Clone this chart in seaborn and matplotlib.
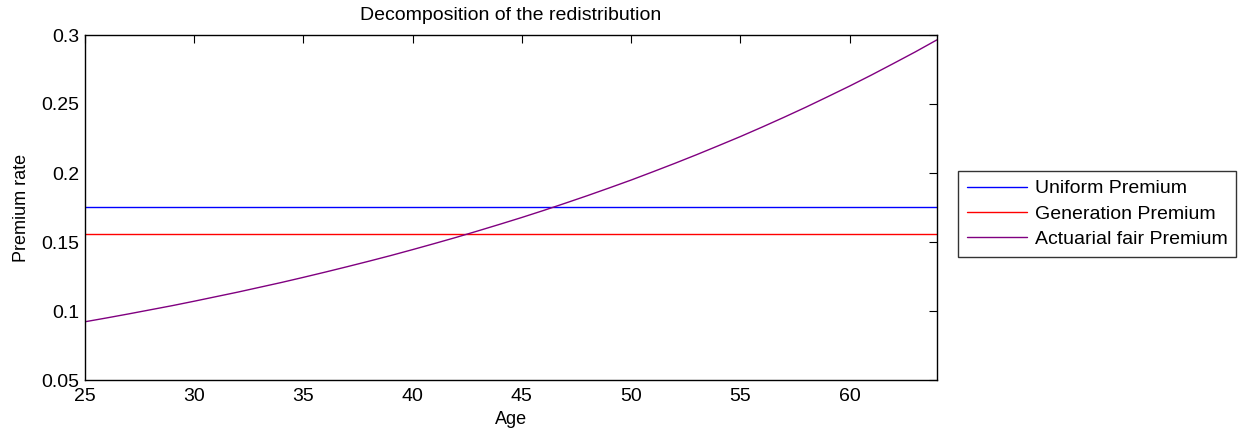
import matplotlib
matplotlib.use("Agg")
import matplotlib.pyplot as plt
import pandas as pd
import seaborn as sns

# ---- data ----
ages = list(range(25, 65))
uniform_premium = 0.1752
generation_premium = 0.1557
actuarial_fair = [
    0.0922, 0.0950, 0.0979, 0.1009, 0.1039, 0.1071, 0.1104, 0.1137, 0.1172, 0.1207,
    0.1244, 0.1282, 0.1321, 0.1361, 0.1402, 0.1445, 0.1489, 0.1534, 0.1581, 0.1629,
    0.1678, 0.1729, 0.1782, 0.1836, 0.1892, 0.1949, 0.2009, 0.2070, 0.2133, 0.2198,
    0.2264, 0.2333, 0.2404, 0.2477, 0.2553, 0.2630, 0.2710, 0.2793, 0.2877, 0.2965,
]
series_names = ["Uniform Premium", "Generation Premium", "Actuarial fair Premium"]
xticks = [25, 30, 35, 40, 45, 50, 55, 60]
yticks = [0.05, 0.1, 0.15, 0.2, 0.25, 0.3]
ytick_labels = ["0.05", "0.1", "0.15", "0.2", "0.25", "0.3"]
colors = ["#0000ff", "#ff0000", "#800080"]

sns.set_style("white")
plt.rcParams["font.family"] = ["Liberation Sans", "DejaVu Sans"]
plt.rcParams["text.color"] = "black"
plt.rcParams["axes.labelcolor"] = "black"

df = pd.DataFrame({
    "Age": ages * 3,
    "Premium rate": [uniform_premium] * len(ages) + [generation_premium] * len(ages) + actuarial_fair,
    "Series": [n for n in series_names for _ in ages],
})

fig = plt.figure(figsize=(12.38, 4.36), dpi=100)
ax = fig.add_axes([85 / 1238, 56 / 436, 852 / 1238, 345 / 436])

sns.lineplot(data=df, x="Age", y="Premium rate", hue="Series", hue_order=series_names,
             palette=colors, linewidth=1.0, ax=ax)

ax.set_xlim(25, 64)
ax.set_ylim(0.05, 0.3)
ax.set_xticks(xticks)
ax.set_yticks(yticks)
ax.set_yticklabels(ytick_labels)
ax.tick_params(direction="in", top=True, right=True, length=6, width=0.8,
               labelsize=14, colors="black")
ax.tick_params(axis="x", pad=6)
ax.tick_params(axis="y", pad=4)
for s in ax.spines.values():
    s.set_color("black")
    s.set_linewidth(1.0)

ax.set_xlabel("Age", fontsize=13, labelpad=4, color="black")
ax.set_ylabel("Premium rate", fontsize=13, labelpad=8, color="black")
ax.set_title("Decomposition of the redistribution", fontsize=14, pad=11, color="black")

leg = ax.legend(loc="upper left", bbox_to_anchor=((958 - 85) / 852, (380 - 171) / 345),
                borderaxespad=0, fontsize=14, handlelength=3.1, handletextpad=0.4,
                labelspacing=0.4, borderpad=0.45, frameon=True, fancybox=False)
leg.get_frame().set_edgecolor("black")
leg.get_frame().set_linewidth(1.0)
for line in leg.get_lines():
    line.set_linewidth(1.0)
for t in leg.get_texts():
    t.set_color("black")

fig.savefig("out.png", dpi=100)
